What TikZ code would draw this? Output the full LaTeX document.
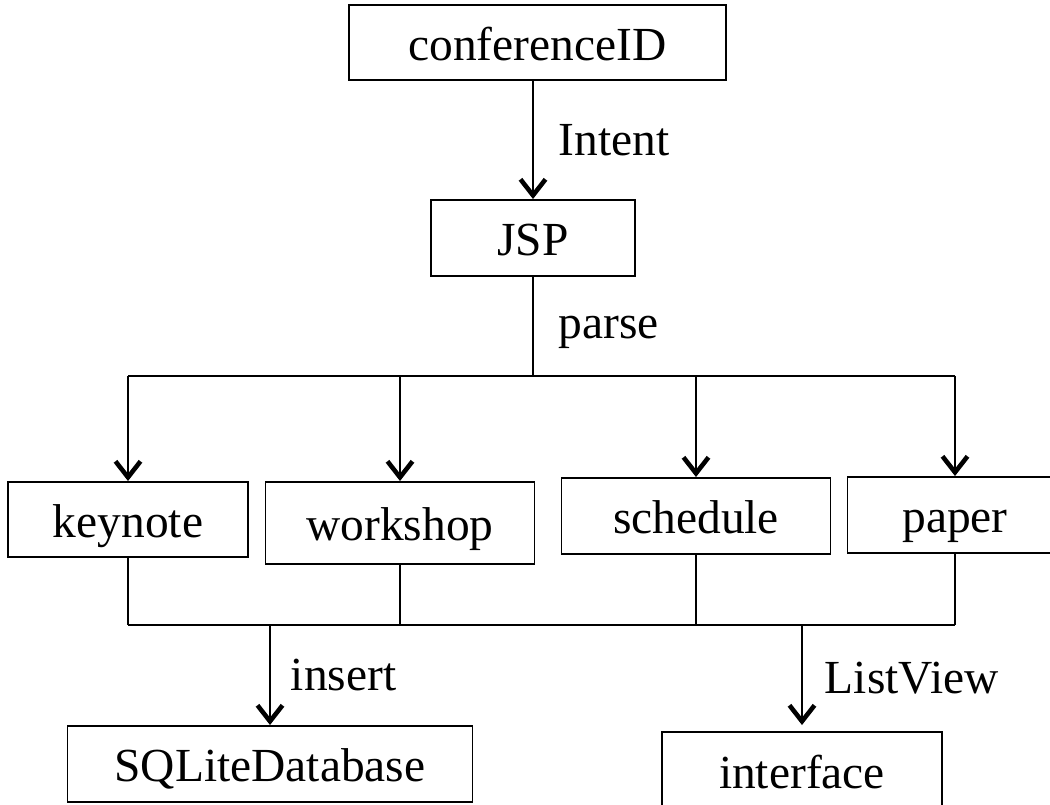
\documentclass[tikz,border=0pt]{standalone}
\usepackage{fontspec}
\setmainfont{Liberation Serif}
\usetikzlibrary{arrows.meta,positioning}

\tikzset{
  box/.style={draw, line width=1.1pt, inner sep=0pt, minimum height=1.52cm,
    text height=26.5pt, text depth=6.5pt},
  arr/.style={line width=1.1pt, -{Straight Barb[length=3.2mm, width=5mm, line width=2.6pt]}},
  link/.style={line width=0.9pt},
  lbl/.style={right=0.5cm, inner sep=0pt}
}

\begin{document}
\begin{tikzpicture}[font=\fontsize{27}{32}\selectfont]
    \useasboundingbox (0,0) rectangle (21,16.1);

    % boxes
    \node[box, minimum width=7.54cm, minimum height=1.5cm] (conf) at (10.75,15.25) {conferenceID};
    \node[box, minimum width=4.08cm] (jsp) at (10.66,11.34) {JSP};

    \node[box, minimum width=4.8cm, minimum height=1.5cm] (keynote) at (2.56,5.71) {keynote};
    \node[box, minimum width=5.38cm, minimum height=1.64cm] (workshop) at (8.0,5.64) {workshop};
    \node[box, minimum width=5.38cm] (schedule) at (13.92,5.78) {schedule};
    \node[box, minimum width=4.3cm] (paper) at (19.1,5.8) {paper};

    \node[box, minimum width=8.1cm] (sqlite) at (5.4,0.82) {SQLiteDatabase};
    \node[box, minimum width=5.6cm, minimum height=1.56cm] (iface) at (16.04,0.68) {interface};

    \coordinate (split) at (10.66,8.58);
    \coordinate (join) at (10.66,3.6);

    % top part
    \draw[arr] (conf.south -| jsp.north) -- (jsp.north) node[midway, lbl] {Intent};
    \draw[link] (jsp.south) -- (split) node[midway, lbl, yshift=-0.12cm] {parse};

    % fan out
    \draw[link, line width=1.1pt] (keynote.north |- split) -- (paper.north |- split);
    \foreach \n in {keynote,workshop,schedule,paper}
      \draw[arr] (\n.north |- split) -- (\n.north);

    % gather
    \foreach \n in {keynote,workshop,schedule,paper}
      \draw[link] (\n.south) -- (\n.south |- join);
    \draw[link, line width=1.1pt] (keynote.south |- join) -- (paper.south |- join);

    \draw[arr] (sqlite.north |- join) -- (sqlite.north) node[midway, lbl, right=0.4cm] {insert};
    \draw[arr, shorten >=0.12cm] (iface.north |- join) -- (iface.north) node[midway, lbl, right=0.44cm] {ListView};
\end{tikzpicture}
\end{document}
